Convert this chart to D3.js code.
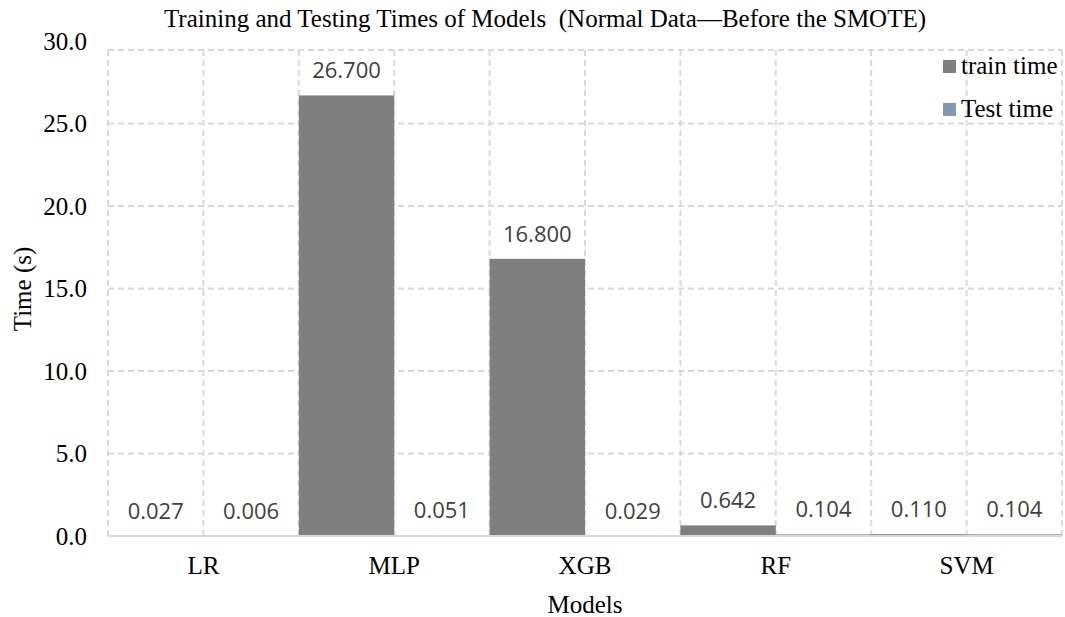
<!DOCTYPE html>
<html>
<head>
<meta charset="utf-8">
<script src="https://cdn.jsdelivr.net/npm/d3@7"></script>
<style>
  html, body { margin: 0; padding: 0; background: #fff; }
  svg { display: block; }
</style>
</head>
<body>
<svg id="chart" width="1065" height="617"></svg>
<script>
// Models and their measured times (seconds)
const models = ["LR", "MLP", "XGB", "RF", "SVM"];
const seriesNames = ["train time", "Test time"];
const trainTime = [0.027, 26.700, 16.800, 0.642, 0.110];
const testTime = [0.006, 0.051, 0.029, 0.104, 0.104];
const yTicks = [0, 5, 10, 15, 20, 25, 30];

const colors = { "train time": "#7f7f7f", "Test time": "#8497b0" };

const W = 1065, H = 617;
const margin = { top: 50, right: 3, bottom: 81, left: 108 };
const innerW = W - margin.left - margin.right;
const innerH = H - margin.top - margin.bottom;
// the value axis reaches a little above the framed plot area
const axisOvershoot = 9;

const serif = "'Liberation Serif', 'Times New Roman', serif";

const svg = d3.select("#chart");
const g = svg.append("g").attr("transform", `translate(${margin.left},${margin.top})`);

const x0 = d3.scaleBand().domain(models).range([0, innerW]).paddingInner(0).paddingOuter(0);
const x1 = d3.scaleBand().domain(seriesNames).range([0, x0.bandwidth()]).padding(0);
const y = d3.scaleLinear().domain([0, 30]).range([innerH, -axisOvershoot]);

const rows = models.map((m, i) => ({ model: m, values: [
  { key: "train time", value: trainTime[i] },
  { key: "Test time", value: testTime[i] }
]}));

const grid = { stroke: "#d9d9d9", width: 2, dash: "6,4" };

// horizontal dashed gridlines plus the top frame line
g.append("g").selectAll("line").data(yTicks.filter(t => t > 0 && t < 30)).join("line")
  .attr("x1", 0).attr("x2", innerW)
  .attr("y1", d => y(d)).attr("y2", d => y(d))
  .attr("stroke", grid.stroke).attr("stroke-width", grid.width).attr("stroke-dasharray", grid.dash);
g.append("line")
  .attr("x1", 0).attr("x2", innerW).attr("y1", 0).attr("y2", 0)
  .attr("stroke", grid.stroke).attr("stroke-width", grid.width).attr("stroke-dasharray", grid.dash);

// vertical dashed gridlines at every sub-band edge
const vEdges = [];
models.forEach(m => seriesNames.forEach(s => vEdges.push(x0(m) + x1(s))));
vEdges.push(innerW);
g.append("g").selectAll("line").data(vEdges).join("line")
  .attr("x1", d => d).attr("x2", d => d)
  .attr("y1", 0).attr("y2", innerH)
  .attr("stroke", grid.stroke).attr("stroke-width", grid.width).attr("stroke-dasharray", grid.dash);

// bars
const groups = g.append("g").selectAll("g").data(rows).join("g")
  .attr("transform", d => `translate(${x0(d.model)},0)`);

groups.selectAll("rect").data(d => d.values).join("rect")
  .attr("x", d => x1(d.key))
  .attr("width", x1.bandwidth())
  .attr("y", d => y(d.value))
  .attr("height", d => innerH - y(d.value))
  .attr("fill", d => colors[d.key]);

// value labels
groups.selectAll("text").data(d => d.values).join("text")
  .attr("x", d => x1(d.key) + x1.bandwidth() / 2)
  .attr("y", d => y(d.value) - 17)
  .attr("text-anchor", "middle")
  .attr("font-family", "'Open Sans', sans-serif")
  .attr("font-size", 22)
  .attr("fill", "#404040")
  .text(d => d.value.toFixed(3));

// baseline
g.append("line")
  .attr("x1", 0).attr("x2", innerW)
  .attr("y1", y(0)).attr("y2", y(0))
  .attr("stroke", "#d9d9d9").attr("stroke-width", 2);

// y axis tick labels
const yAxis = d3.axisLeft(y).tickValues(yTicks).tickSize(0).tickPadding(21)
  .tickFormat(d3.format(".1f"));
const yG = g.append("g").call(yAxis);
yG.select(".domain").remove();
yG.selectAll("text")
  .attr("font-family", serif)
  .attr("font-size", 25).attr("fill", "#000");

// x axis category labels
const xAxis = d3.axisBottom(x0).tickSize(0).tickPadding(20);
const xG = g.append("g").attr("transform", `translate(0,${innerH})`).call(xAxis);
xG.select(".domain").remove();
xG.selectAll("text")
  .attr("font-family", serif)
  .attr("font-size", 25).attr("fill", "#000");

// title
svg.append("text")
  .attr("x", 545).attr("y", 27)
  .attr("text-anchor", "middle")
  .attr("font-family", serif)
  .attr("font-size", 25).attr("fill", "#000")
  .style("white-space", "pre")
  .text("Training and Testing Times of Models  (Normal Data\u2014Before the SMOTE)");

// axis titles
svg.append("text")
  .attr("x", margin.left + innerW / 2).attr("y", 613)
  .attr("text-anchor", "middle")
  .attr("font-family", serif)
  .attr("font-size", 25).attr("fill", "#000")
  .text("Models");

svg.append("text")
  .attr("transform", `translate(31,${margin.top + innerH / 2 - 4}) rotate(-90)`)
  .attr("text-anchor", "middle")
  .attr("font-family", serif)
  .attr("font-size", 25).attr("fill", "#000")
  .text("Time (s)");

// legend
const legend = svg.append("g").attr("transform", "translate(943,60)");
seriesNames.forEach((s, i) => {
  const row = legend.append("g").attr("transform", `translate(0,${i * 43})`);
  row.append("rect").attr("x", 0).attr("y", 0).attr("width", 13).attr("height", 13)
    .attr("fill", colors[s]);
  row.append("text").attr("x", 18).attr("y", 14)
    .attr("font-family", serif)
    .attr("font-size", 25).attr("fill", "#000")
    .text(s);
});
</script>
</body>
</html>
